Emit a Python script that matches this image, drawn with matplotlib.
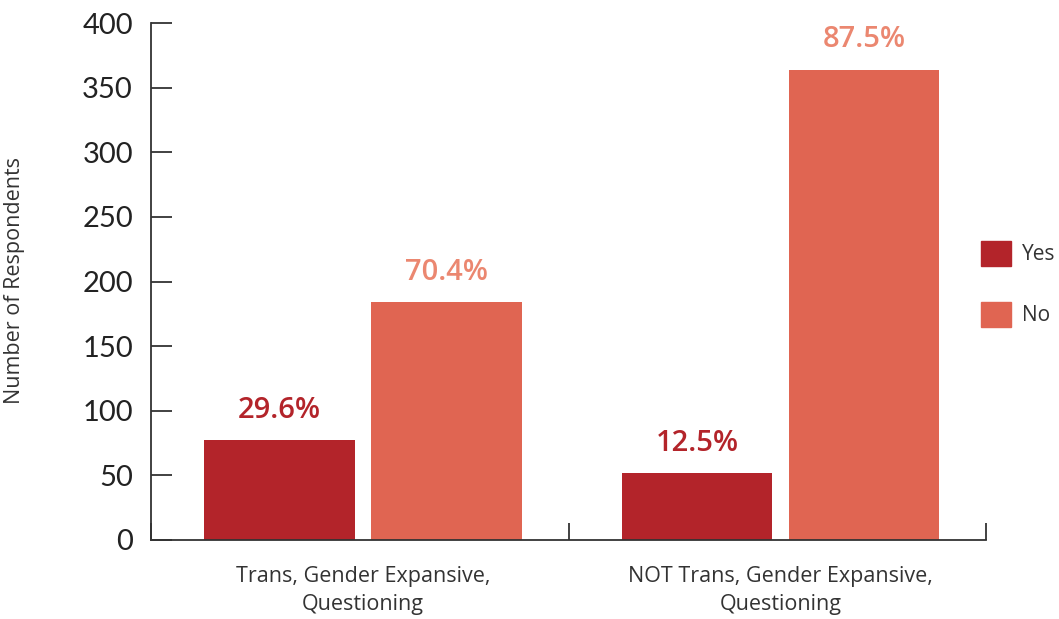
import matplotlib
matplotlib.use("Agg")
import matplotlib.pyplot as plt
from matplotlib.patches import Patch

categories = ["Trans, Gender Expansive,\nQuestioning", "NOT Trans, Gender Expansive,\nQuestioning"]
yes_counts = [77, 52]
no_counts = [184, 364]
yes_pct = ["29.6%", "12.5%"]
no_pct = ["70.4%", "87.5%"]
y_ticks = [0, 50, 100, 150, 200, 250, 300, 350, 400]

yes_color = "#b3242a"
no_color = "#e06552"
yes_text = "#b3242a"
no_text = "#eb8770"

fig = plt.figure(figsize=(10.59, 6.19), dpi=100)
ax = fig.add_axes([151/1059, 1 - 540/619, (986-151)/1059, (540-23)/619])

x = list(range(len(categories)))
w = 0.361
b1 = ax.bar([i - 0.192 for i in x], yes_counts, width=w, color=yes_color, zorder=2)
b2 = ax.bar([i + 0.208 for i in x], no_counts, width=w, color=no_color, zorder=2)

for rect, lab in zip(b1, yes_pct):
    ax.annotate(lab, (rect.get_x() + rect.get_width()/2, rect.get_height()),
                xytext=(0, 11), textcoords="offset points", ha="center", va="bottom",
                fontsize=21, fontweight="semibold", color=yes_text, family="Open Sans")
for rect, lab in zip(b2, no_pct):
    ax.annotate(lab, (rect.get_x() + rect.get_width()/2, rect.get_height()),
                xytext=(0, 11), textcoords="offset points", ha="center", va="bottom",
                fontsize=21, fontweight="semibold", color=no_text, family="Open Sans")

ax.set_xlim(-0.5, 1.5)
ax.set_ylim(0, 400)
ax.set_yticks(y_ticks)
ax.set_yticklabels([str(t) for t in y_ticks], family="Lato", fontweight="normal",
                   fontsize=21, color="#222222")
ax.tick_params(axis="y", direction="in", length=15, width=1.3, color="#333333", pad=13)

ax.set_xticks([-0.5, 0.5, 1.5])
ax.set_xticklabels([])
ax.tick_params(axis="x", direction="in", length=12, width=1.3, color="#333333")
for i, c in enumerate(categories):
    ax.text(i + 0.008, -20, c, ha="center", va="top", fontsize=15.5, family="Open Sans",
            color="#333333", linespacing=1.45)

for s in ["top", "right"]:
    ax.spines[s].set_visible(False)
for s in ["left", "bottom"]:
    ax.spines[s].set_linewidth(1.3)
    ax.spines[s].set_color("#333333")

fig.text(15/1059, 1 - 280/619, "Number of Respondents", rotation=90, ha="center", va="center",
         fontsize=15.5, family="Open Sans", color="#333333")

handles = [Patch(color=yes_color, label="Yes"), Patch(color=no_color, label="No")]
fig.legend(handles=handles, loc="center left", bbox_to_anchor=(962/1059, 1 - 284/619),
           frameon=False, prop={"family": "Open Sans", "size": 15},
           handlelength=1.45, handleheight=1.45, labelspacing=1.75, handletextpad=0.55,
           labelcolor="#333333")

fig.savefig("out.png", dpi=100)
